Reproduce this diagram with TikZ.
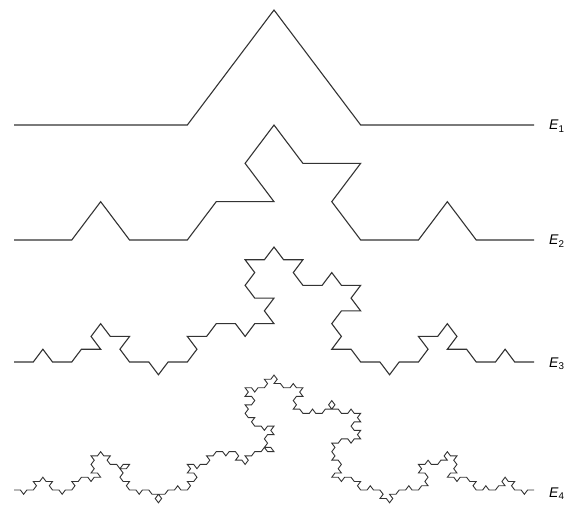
\documentclass[tikz,border=0pt]{standalone}
\usepackage{fontspec}
\newfontfamily\labelfont{Liberation Sans}

% Koch curve with a chosen side for every bump:
% one string per level, N = bump to the left, I = bump to the right
\ExplSyntaxOn
\tl_new:N \g_koch_path_tl
\clist_new:N \l_koch_flips_clist
\fp_new:N \l_koch_step_fp
\cs_new:Npn \koch_sign:nn #1#2
  {
    \str_if_eq:eeTF
      { \exp_args:Ne \str_item:nn { \clist_item:Nn \l_koch_flips_clist {#1} } { #2 + 1 } }
      { I } { -1 } { 1 }
  }
\cs_new_protected:Npn \koch_part:nnn #1#2#3
  {
    \int_compare:nNnTF {#1} > { \clist_count:N \l_koch_flips_clist }
      {
        \tl_gput_right:Nx \g_koch_path_tl
          { -- ++ ( \int_eval:n {#3} \c_colon_str \fp_eval:n { \l_koch_step_fp } pt ) }
      }
      { \koch_children:nnne {#1} {#2} {#3} { \int_eval:n { 60 * \koch_sign:nn {#1} {#2} } } }
  }
\cs_generate_variant:Nn \koch_part:nnn { eee }
\cs_new_protected:Npn \koch_children:nnnn #1#2#3#4
  {
    \koch_part:eee { \int_eval:n {#1+1} } { \int_eval:n {4*(#2)} }   { \int_eval:n {#3} }
    \koch_part:eee { \int_eval:n {#1+1} } { \int_eval:n {4*(#2)+1} } { \int_eval:n {#3+(#4)} }
    \koch_part:eee { \int_eval:n {#1+1} } { \int_eval:n {4*(#2)+2} } { \int_eval:n {#3-(#4)} }
    \koch_part:eee { \int_eval:n {#1+1} } { \int_eval:n {4*(#2)+3} } { \int_eval:n {#3} }
  }
\cs_generate_variant:Nn \koch_children:nnnn { nnne }
\NewDocumentCommand \kochcurve { m m }
  {
    \clist_set:Nn \l_koch_flips_clist {#2}
    \fp_set:Nn \l_koch_step_fp { #1 / 3 ^ { \clist_count:N \l_koch_flips_clist } }
    \tl_gclear:N \g_koch_path_tl
    \koch_part:nnn {1} {0} {0}
  }
\NewDocumentCommand \kochpath { } { \tl_use:N \g_koch_path_tl }
\ExplSyntaxOff

\begin{document}
\begin{tikzpicture}[x=1pt, y=1pt,
  every node/.style={font=\labelfont\itshape\fontsize{14}{16}\selectfont},
  curve/.style={line width=1.1pt, line join=miter, black!80},
  tag/.style={anchor=base west, inner sep=0pt},
  flat/.style={yscale=0.766}
]
  \useasboundingbox (0,0) rectangle (584,515);

  % start points
  \coordinate (s1) at (14,390);
  \coordinate (s2) at (14,275);
  \coordinate (s3) at (14,153);
  \coordinate (s4) at (14,25);

  % E1 .. E4
  \begin{scope}[shift={(s1)}, flat]
    \kochcurve{520}{N}
    \draw[curve] (0,0) \kochpath;
  \end{scope}
  \begin{scope}[shift={(s2)}, flat]
    \kochcurve{520}{N, NINN}
    \draw[curve] (0,0) \kochpath;
  \end{scope}
  \begin{scope}[shift={(s3)}, flat]
    \kochcurve{520}{N, NINN, NININIINNNNIININ}
    \draw[curve] (0,0) \kochpath;
  \end{scope}
  \begin{scope}[shift={(s4)}, flat]
    \kochcurve{520}{N, NINN, NININIINNNNIININ,
      INNININNNIININNNNNINIINNNININNININNINIINNNNIININNINNINNINNINNINI}
    \draw[curve, line width=0.9pt] (0,0) \kochpath;
  \end{scope}

  % labels
  \node[tag] (e1) at (549,385) {E\textsubscript{\upshape 1}};
  \node[tag] (e2) at (549,270) {E\textsubscript{\upshape 2}};
  \node[tag] (e3) at (549,148) {E\textsubscript{\upshape 3}};
  \node[tag] (e4) at (549,18) {E\textsubscript{\upshape 4}};

\end{tikzpicture}
\end{document}
